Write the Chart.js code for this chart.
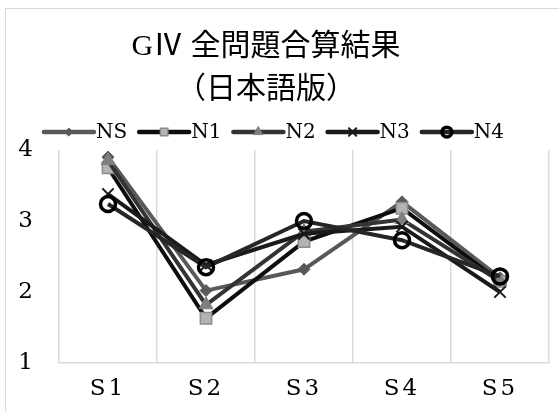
<!DOCTYPE html>
<html>
<head>
<meta charset="utf-8">
<script src="https://cdn.jsdelivr.net/npm/chart.js@4.4.1/dist/chart.umd.min.js"></script>
<style>
  html, body { margin: 0; padding: 0; background: #fff; }
  #wrap { position: relative; width: 559px; height: 412px; overflow: hidden; }
  #frame { position: absolute; left: 5px; top: 8px; width: 600px; height: 500px; border: 1px solid #d9d9d9; box-sizing: border-box; }
  canvas { position: absolute; left: 0; top: 0; }
</style>
</head>
<body>
<div id="wrap">
  <div id="frame"></div>
  <canvas id="chart" width="559" height="412"></canvas>
</div>
<script>
// GIV 全問題合算結果 — five groups over five sections
const categories = ['S1', 'S2', 'S3', 'S4', 'S5'];
const seriesNames = ['NS', 'N1', 'N2', 'N3', 'N4'];
const valuesNS = [3.9, 2.02, 2.32, 3.27, 2.2];
const valuesN1 = [3.75, 1.63, 2.71, 3.18, 2.15];
const valuesN2 = [3.85, 1.82, 2.85, 3.02, 2.15];
const valuesN3 = [3.38, 2.38, 2.82, 2.92, 2.0];
const valuesN4 = [3.24, 2.35, 3.0, 2.73, 2.22];
const yTicks = [1, 2, 3, 4];
const titleLines = ['GⅣ 全問題合算結果', '（日本語版）'];

const serif = "'DejaVu Serif', 'Liberation Serif', 'Noto Sans CJK JP', serif";
const titleFont = "'Liberation Serif', 'Noto Sans CJK JP', serif";

const styles = [
  { line: '#595959', fill: '#595959', border: '#595959', shape: 'rectRot', r: 6, bw: 1 },
  { line: '#0d0d0d', fill: '#b3b3b3', border: '#8c8c8c', shape: 'rect', r: 8, bw: 1.5 },
  { line: '#333333', fill: '#7f7f7f', border: '#7f7f7f', shape: 'triangle', r: 8, bw: 1 },
  { line: '#1a1a1a', fill: '#1a1a1a', border: '#1a1a1a', shape: 'crossRot', r: 8, bw: 2 },
  { line: '#262626', fill: 'rgba(0,0,0,0)', border: '#000000', shape: 'circle', r: 7.5, bw: 3.5 },
];
const allValues = [valuesNS, valuesN1, valuesN2, valuesN3, valuesN4];

const datasets = seriesNames.map((name, i) => ({
  label: name,
  data: allValues[i],
  borderColor: styles[i].line,
  borderWidth: 4,
  tension: 0,
  pointStyle: styles[i].shape,
  pointRadius: styles[i].r,
  pointBackgroundColor: styles[i].fill,
  pointBorderColor: styles[i].border,
  pointBorderWidth: styles[i].bw,
  order: seriesNames.length - 1 - i,
}));

// wide letter spacing on the axis labels, like the original's font
const spacingPlugin = {
  id: 'spacing',
  beforeDraw(chart) { chart.ctx.letterSpacing = '3px'; },
  afterDraw(chart) { chart.ctx.letterSpacing = '0px'; },
};

// title + line-with-marker legend, drawn like the spreadsheet original
const headerPlugin = {
  id: 'header',
  afterDraw(chart) {
    const ctx = chart.ctx;
    ctx.save();
    ctx.letterSpacing = '0px';
    ctx.fillStyle = '#000';
    ctx.textAlign = 'center';
    ctx.textBaseline = 'middle';
    ctx.font = `30px ${titleFont}`;
    ctx.fillText(titleLines[0], 266, 47);
    ctx.fillText(titleLines[1], 266, 90);

    ctx.font = `20px ${serif}`;
    const lineLen = 50, gap = 2, spacing = 12;
    const widths = seriesNames.map((n) => ctx.measureText(n).width);
    const total = widths.reduce((s, w) => s + lineLen + gap + w, 0) + spacing * (seriesNames.length - 1);
    let x = 274 - total / 2;
    const y = 132;
    seriesNames.forEach((n, i) => {
      const st = styles[i];
      ctx.strokeStyle = st.line;
      ctx.lineWidth = 4.5;
      ctx.lineCap = 'round';
      ctx.beginPath();
      ctx.moveTo(x, y);
      ctx.lineTo(x + lineLen, y);
      ctx.stroke();
      ctx.fillStyle = st.fill;
      ctx.strokeStyle = st.border;
      ctx.lineWidth = st.bw;
      Chart.helpers.drawPoint(ctx, { pointStyle: st.shape, radius: st.r * 0.65, rotation: 0, borderWidth: st.bw }, x + lineLen / 2, y);
      ctx.fillStyle = '#000';
      ctx.textAlign = 'left';
      ctx.fillText(n, x + lineLen + gap, y + 1);
      x += lineLen + gap + widths[i] + spacing;
    });
    ctx.restore();
  },
};

new Chart(document.getElementById('chart'), {
  type: 'line',
  data: { labels: categories, datasets },
  options: {
    responsive: false,
    animation: false,
    layout: { padding: { top: 150, right: 10, bottom: 0, left: 0 }, autoPadding: false },
    plugins: {
      legend: { display: false },
      title: { display: false },
      tooltip: { enabled: false },
    },
    scales: {
      x: {
        offset: true,
        grid: { offset: true, color: '#d9d9d9', lineWidth: 1.5, drawTicks: false },
        border: { color: '#d9d9d9', width: 1.5 },
        ticks: { color: '#000', font: { family: serif, size: 23 }, padding: 12 },
        afterFit: (s) => { s.height = 49; },
      },
      y: {
        min: 1,
        max: 4,
        afterBuildTicks: (s) => { s.ticks = yTicks.map((v) => ({ value: v })); },
        grid: { display: false },
        border: { display: false },
        ticks: { color: '#000', font: { family: serif, size: 23 }, padding: 15 },
        afterFit: (s) => { s.width = 59; },
      },
    },
  },
  plugins: [spacingPlugin, headerPlugin],
});
</script>
</body>
</html>
